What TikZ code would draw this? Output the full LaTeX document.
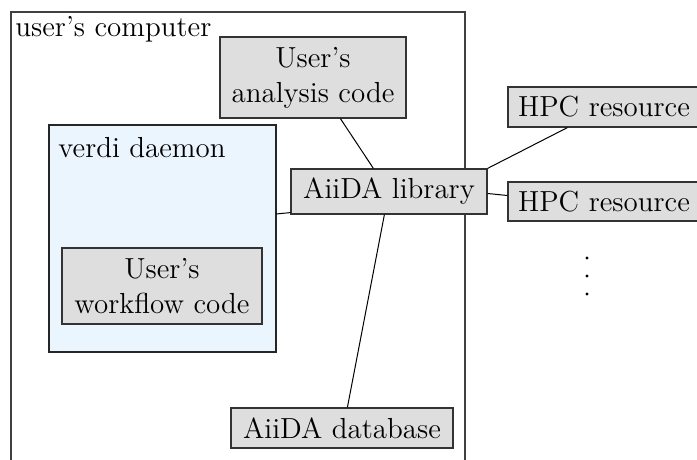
\documentclass[tikz,border=0pt]{standalone}
\usetikzlibrary{calc}
\definecolor{boxgray}{HTML}{DEDEDE}
\definecolor{daemonblue}{HTML}{EBF5FE}
\begin{document}
\begin{tikzpicture}[x=0.5pt,y=-0.5pt,
  every node/.style={font=\fontsize{14.5}{17.5}\selectfont},
  grbox/.style={draw=black!80, fill=boxgray, line width=0.6pt, align=center, inner sep=0pt, minimum width=#1},
  link/.style={line width=0.5pt, black},
  dot/.style={circle, fill=black, inner sep=0pt, minimum size=1.6pt}]
\clip (0,0) rectangle (697,460);
\fill[white] (0,0) rectangle (697,460);
% outer box
\draw[black!75, line width=0.6pt] (11,12) rectangle (465,480);
\node[anchor=base west, inner sep=0pt] (uc) at (15,37) {user's computer};
% daemon
\draw[black!85, fill=daemonblue, line width=0.6pt] (49,125) rectangle (276,352);
\coordinate (dright) at (276,214);
\node[anchor=base west, inner sep=0pt] (vd) at (58,158) {verdi daemon};
% boxes
\node[grbox=93pt, minimum height=40.5pt] (ana) at (313,77.5) {User's\\analysis code};
\node[grbox=98pt, minimum height=22.5pt] (lib) at (389,191.5) {AiiDA library};
\node[grbox=100pt, minimum height=38pt] (wf) at (162,286) {User's\\workflow code};
\node[grbox=111pt, minimum height=20pt] (db) at (342,428) {AiiDA database};
\node[grbox=98pt, minimum height=20pt, text width=88pt, align=left] (hpc1) at (606,107) {HPC resource};
\node[grbox=98pt, minimum height=19.5pt, text width=88pt, align=left] (hpc2) at (606,201.5) {HPC resource};
\node[dot] (d1) at (587,258) {};
\node[dot] (d2) at (587,276) {};
\node[dot] (d3) at (587,294) {};
% connectors
\draw[link] ($(ana.south west)+(121,0)$) -- ($(lib.north west)+(83,0)$);
\draw[link] (lib.north east) -- ($(hpc1.south west)+(60,0)$);
\draw[link] ($(lib.east)+(0,2)$) -- ($(hpc2.west)+(0,-6)$);
\draw[link] (dright) -- ($(lib.south west)+(0,-2)$);
\draw[link] ($(lib.south west)+(94,0)$) -- ($(db.north west)+(117,0)$);
\end{tikzpicture}
\end{document}
